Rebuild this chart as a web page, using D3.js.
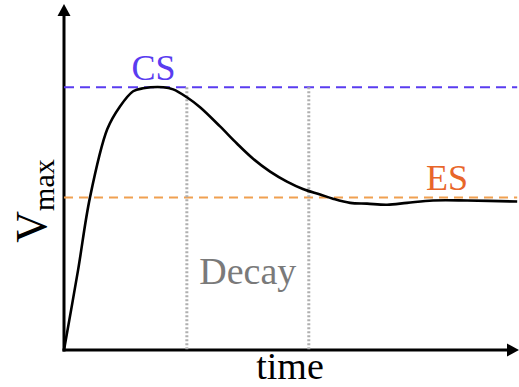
<!DOCTYPE html>
<html>
<head>
<meta charset="utf-8">
<script src="https://cdn.jsdelivr.net/npm/d3@7/dist/d3.min.js"></script>
<style>
  html, body { margin: 0; padding: 0; background: #fff; }
  svg { display: block; }
</style>
</head>
<body>
<script>
// Response of V_max over time: rise, peak at the CS level, decay, settle at ES.
const timeVals = [0, 0.31, 0.57, 0.95, 1.23, 1.52, 1.74, 2.18, 2.40, 2.70, 2.99, 3.43, 3.80,
                  4.15, 4.53, 4.90, 5.25, 5.63, 5.91, 6.29, 6.66, 7.10, 7.54, 8.11, 8.86, 9.96];
const vmaxVals = [0, 0.305, 0.58, 0.84, 0.927, 0.985, 0.996, 1.0, 0.992, 0.962, 0.924, 0.851, 0.786,
                  0.729, 0.679, 0.641, 0.613, 0.592, 0.576, 0.56, 0.557, 0.553, 0.56, 0.569, 0.569, 0.565];

const csLevel = 1.0;              // conditioned-state plateau
const esLevel = 0.58;             // equilibrium-state level
const decayBounds = [2.70, 5.38]; // start/end of the decay window

const labels = { cs: "CS", es: "ES", decay: "Decay", xTitle: "time", yMain: "V", ySub: "max" };

const FONT = "'Liberation Serif', 'Times New Roman', serif";
const W = 519, H = 387;
const svg = d3.select("body").append("svg").attr("width", W).attr("height", H)
  .attr("font-family", FONT);

const x = d3.scaleLinear().domain([0, 10]).range([64, 519]);
const y = d3.scaleLinear().domain([0, 1.317]).range([350, 4]);

// Axes: plain lines without ticks, capped with arrowheads
const xAxis = svg.append("g").attr("transform", `translate(0,${y(0)})`)
  .call(d3.axisBottom(x).tickValues([]).tickSizeOuter(0));
const yAxis = svg.append("g").attr("transform", `translate(${x(0)},0)`)
  .call(d3.axisLeft(y).tickValues([]).tickSizeOuter(0));
[xAxis, yAxis].forEach(g => g.select(".domain")
  .attr("stroke", "#000").attr("stroke-width", 3).attr("stroke-linecap", "square"));
xAxis.select(".domain").attr("d", `M0,0H${x(10) - x(0) - 10}`).attr("transform", `translate(${x(0)},0)`);
yAxis.select(".domain").attr("d", `M0,0V${y(y.domain()[1]) + 10 - y(0)}`).attr("transform", `translate(0,${y(0)})`);

const ah = 12, aw = 6.5;
svg.append("path")
  .attr("d", `M${x(10)},${y(0)}L${x(10) - ah},${y(0) - aw}L${x(10) - ah},${y(0) + aw}Z`)
  .attr("fill", "#000");
const yTop = y(y.domain()[1]);
svg.append("path")
  .attr("d", `M${x(0)},${yTop}L${x(0) - aw},${yTop + ah}L${x(0) + aw},${yTop + ah}Z`)
  .attr("fill", "#000");

// Reference levels
svg.append("line")
  .attr("x1", x(0)).attr("x2", x(9.96)).attr("y1", y(csLevel)).attr("y2", y(csLevel))
  .attr("stroke", "#5a3cf0").attr("stroke-width", 2).attr("stroke-dasharray", "10,6");
svg.append("line")
  .attr("x1", x(0)).attr("x2", x(9.96)).attr("y1", y(esLevel)).attr("y2", y(esLevel))
  .attr("stroke", "#f0a050").attr("stroke-width", 2).attr("stroke-dasharray", "9,6");

// Decay window boundaries
svg.selectAll("line.decay").data(decayBounds).enter().append("line")
  .attr("class", "decay")
  .attr("x1", d => x(d)).attr("x2", d => x(d))
  .attr("y1", y(csLevel)).attr("y2", y(0))
  .attr("stroke", "#b0b0b0").attr("stroke-width", 3).attr("stroke-dasharray", "2,2");

// Response curve
const pts = timeVals.map((t, i) => [t, vmaxVals[i]]);
svg.append("path")
  .datum(pts)
  .attr("d", d3.line().x(d => x(d[0])).y(d => y(d[1])).curve(d3.curveCatmullRom.alpha(0.5)))
  .attr("fill", "none").attr("stroke", "#000").attr("stroke-width", 2.6);

// Labels
svg.append("text").attr("x", x(1.97)).attr("y", y(csLevel) - 7)
  .attr("text-anchor", "middle").attr("font-size", 36).attr("fill", "#5a3cf0").text(labels.cs);
svg.append("text").attr("x", x(8.42)).attr("y", y(esLevel) - 8)
  .attr("text-anchor", "middle").attr("font-size", 36).attr("fill", "#e8662a").text(labels.es);
svg.append("text").attr("x", (x(decayBounds[0]) + x(decayBounds[1])) / 2).attr("y", 284)
  .attr("text-anchor", "middle").attr("font-size", 38).attr("fill", "#7a7a7a").text(labels.decay);
svg.append("text").attr("x", 290).attr("y", 379)
  .attr("text-anchor", "middle").attr("font-size", 38).attr("fill", "#000").text(labels.xTitle);

const yt = svg.append("text").attr("transform", "translate(46,201) rotate(-90)")
  .attr("text-anchor", "middle").attr("fill", "#000");
yt.append("tspan").attr("font-size", 44).text(labels.yMain);
yt.append("tspan").attr("font-size", 30).attr("dy", 8).text(labels.ySub);
</script>
</body>
</html>
